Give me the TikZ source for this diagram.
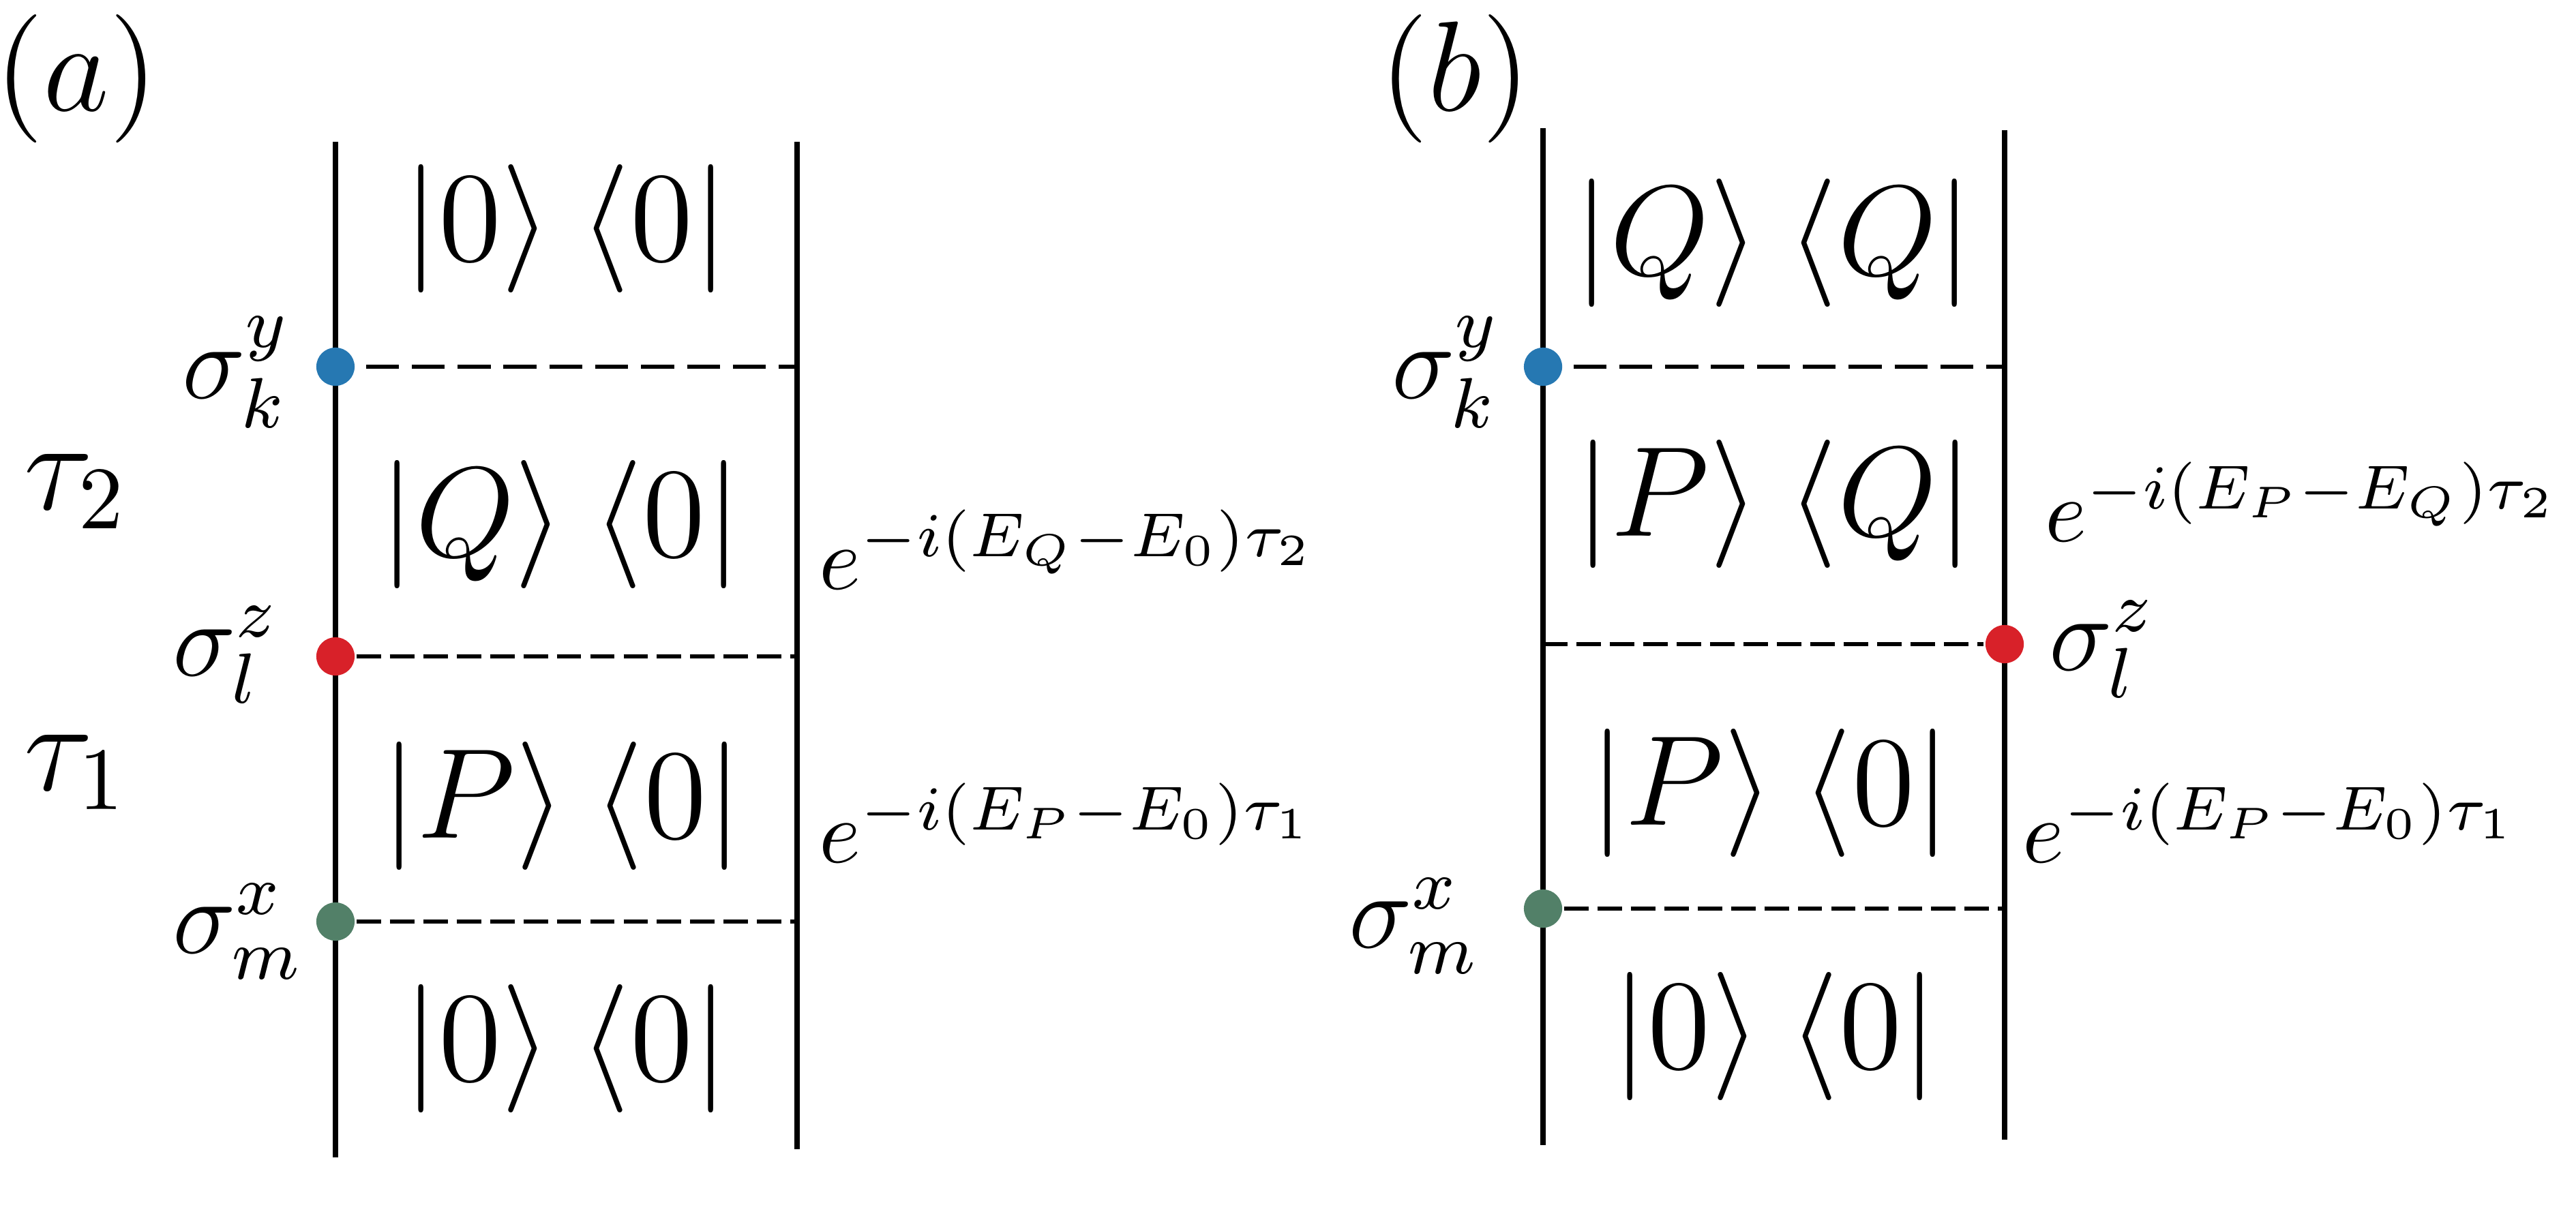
\documentclass[tikz,border=0pt]{standalone}
\usepackage{amsmath}
\usepackage{xcolor}
\usetikzlibrary{positioning}
\definecolor{dotblue}{RGB}{38,120,178}
\definecolor{dotred}{RGB}{216,33,41}
\definecolor{dotgreen}{RGB}{82,128,104}

\begin{document}
\begin{tikzpicture}[x=0.2691cm, y=-0.2691cm,
    wire/.style={line width=0.61pt},
    dot/.style={circle, inner sep=0pt, minimum size=4.3pt},
    longdash/.style={line width=0.41pt, dash pattern=on 3.7pt off 1.45pt, dash phase=4.08pt},
    shortdash/.style={line width=0.41pt, dash pattern=on 2.75pt off 1pt},
    ket/.style={inner sep=0pt, font=\Large},
    op/.style={inner sep=0pt, anchor=base west, font=\large},
    phase/.style={inner sep=0pt, anchor=base west},
    interval/.style={inner sep=0pt, anchor=base west, font=\Large},
    panel/.style={inner sep=0pt, font=\Large}]
    \useasboundingbox (0,0) rectangle (37.78,17.83);

    % panel (a): three operators on the left contour
    \node[panel] (laba) at (1.12,1.15) {$(a)$};
    \coordinate (aLtop) at (4.92,2.08);
    \coordinate (aLbot) at (4.92,16.98);
    \coordinate (aRtop) at (11.69,2.08);
    \coordinate (aRbot) at (11.69,16.86);
    \draw[wire] (aLtop) -- (aLbot);
    \draw[wire] (aRtop) -- (aRbot);

    \node[dot, fill=dotblue] (ka) at (4.92,5.38) {};
    \node[dot, fill=dotred] (la) at (4.92,9.63) {};
    \node[dot, fill=dotgreen] (ma) at (4.92,13.52) {};
    \coordinate (kaR) at (11.69,5.38);
    \coordinate (laR) at (11.69,9.63);
    \coordinate (maR) at (11.69,13.52);
    \draw[longdash] (ka) -- (kaR);
    \draw[shortdash] (la) -- (laR);
    \draw[shortdash] (ma) -- (maR);

    \node[op] (kalab) at (2.65,5.84) {$\sigma_k^y$};
    \node[op] (lalab) at (2.51,9.91) {$\sigma_l^z$};
    \node[op] (malab) at (2.51,13.98) {$\sigma_m^x$};

    \node[interval] (tautwo) at (0.33,7.47) {$\tau_2$};
    \node[interval] (tauone) at (0.33,11.59) {$\tau_1$};

    \node[ket] (a1) at (8.30,3.35) {$|0\rangle\:\langle 0|$};
    \node[ket] (a2) at (8.22,7.69) {$|Q\rangle\:\langle 0|$};
    \node[ket] (a3) at (8.24,11.82) {$|P\rangle\:\langle 0|$};
    \node[ket] (a4) at (8.30,15.38) {$|0\rangle\:\langle 0|$};

    \node[phase] (pha2) at (11.99,8.64) {$e^{-i(E_Q-E_0)\tau_2}$};
    \node[phase] (pha1) at (11.99,12.65) {$e^{-i(E_P-E_0)\tau_1}$};

    % panel (b): sigma^z moved to the right contour
    \node[panel] (labb) at (21.34,1.15) {$(b)$};
    \coordinate (bLtop) at (22.63,1.88);
    \coordinate (bLbot) at (22.63,16.80);
    \coordinate (bRtop) at (29.40,1.91);
    \coordinate (bRbot) at (29.40,16.72);
    \draw[wire] (bLtop) -- (bLbot);
    \draw[wire] (bRtop) -- (bRbot);

    \node[dot, fill=dotblue] (kb) at (22.63,5.38) {};
    \node[dot, fill=dotred] (lb) at (29.40,9.45) {};
    \node[dot, fill=dotgreen] (mb) at (22.63,13.33) {};
    \coordinate (kbR) at (29.40,5.38);
    \coordinate (lbL) at (22.63,9.45);
    \coordinate (mbR) at (29.40,13.33);
    \draw[longdash] (kb) -- (kbR);
    \draw[shortdash] (lbL) -- (lb);
    \draw[shortdash] (mb) -- (mbR);

    \node[op] (kblab) at (20.39,5.84) {$\sigma_k^y$};
    \node[op] (lblab) at (30.03,9.83) {$\sigma_l^z$};
    \node[op] (mblab) at (19.76,13.90) {$\sigma_m^x$};

    \node[ket] (b1) at (26.01,3.56) {$|Q\rangle\:\langle Q|$};
    \node[ket] (b2) at (26.02,7.39) {$|P\rangle\:\langle Q|$};
    \node[ket] (b3) at (25.96,11.63) {$|P\rangle\:\langle 0|$};
    \node[ket] (b4) at (26.03,15.20) {$|0\rangle\:\langle 0|$};

    \node[phase] (phb2) at (29.97,7.94) {$e^{-i(E_P-E_Q)\tau_2}$};
    \node[phase] (phb1) at (29.64,12.65) {$e^{-i(E_P-E_0)\tau_1}$};
\end{tikzpicture}
\end{document}
